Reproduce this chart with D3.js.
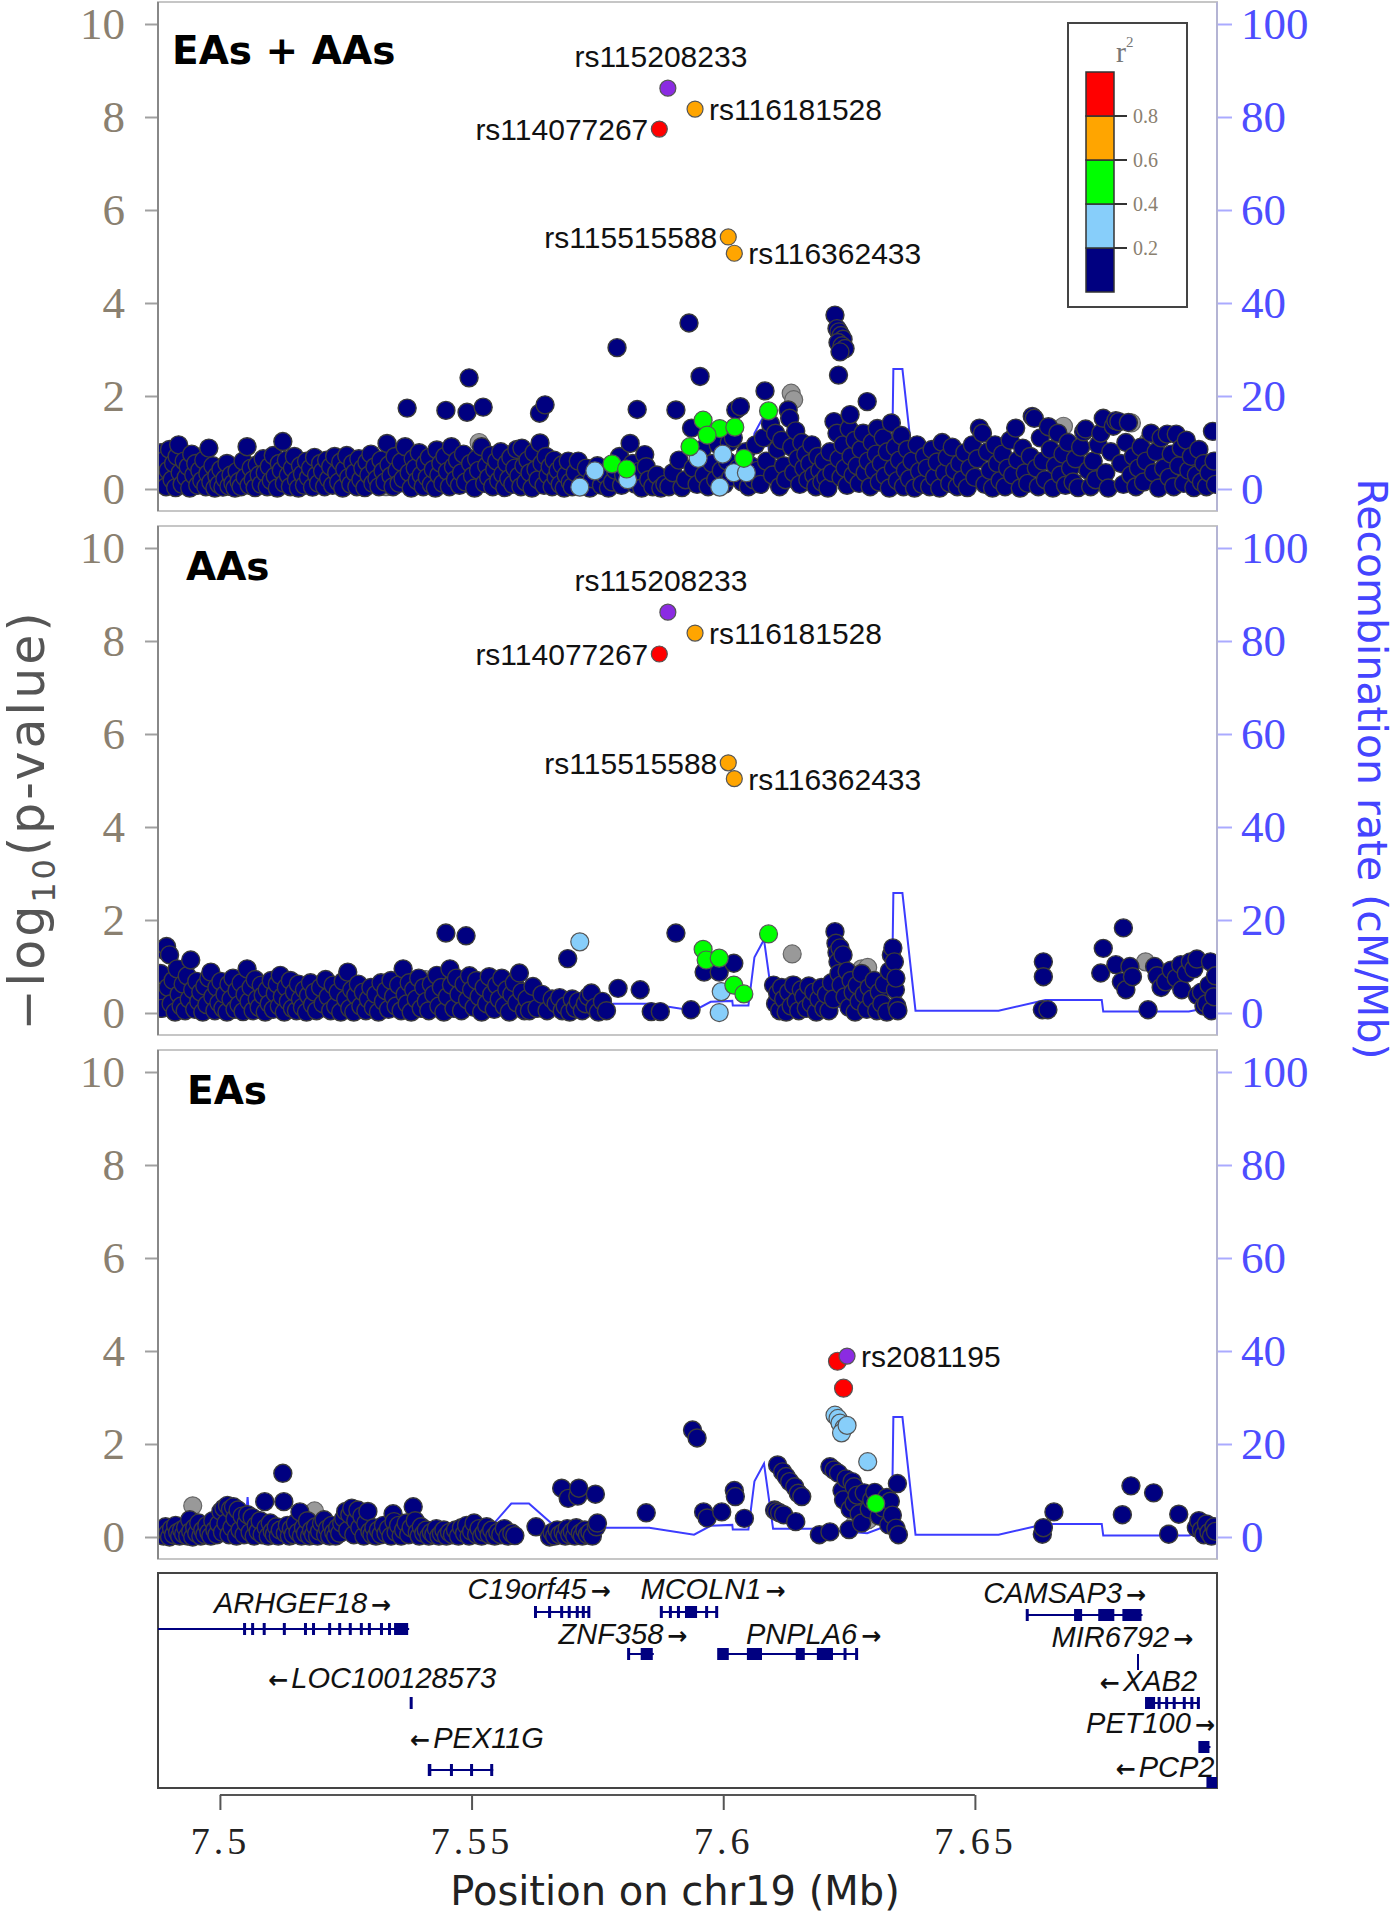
<!DOCTYPE html>
<html>
<head>
<meta charset="utf-8">
<script src="https://cdn.jsdelivr.net/npm/d3@7"></script>
<style>
body { margin: 0; background: #fff; }
</style>
</head>
<body>
<script>
// recombination rate along the region, [Mb, cM/Mb]
const recomb = [[7.4877,1.0],[7.5050,1.1],[7.5055,8.6],[7.5060,1.1],[7.5200,0.8],[7.5400,0.9],[7.5520,1.5],[7.5545,3.0],[7.5579,7.2],[7.5614,7.2],[7.5658,3.0],[7.5750,2.0],[7.5853,2.0],[7.5942,0.5],[7.5975,2.4],[7.6018,2.6],[7.6019,1.6],[7.6050,1.6],[7.6062,12.0],[7.6081,15.8],[7.6099,1.8],[7.6177,1.8],[7.6286,0.8],[7.6320,2.2],[7.6335,2.2],[7.6338,25.8],[7.6356,25.8],[7.6382,0.5],[7.6547,0.5],[7.6640,2.8],[7.6752,2.8],[7.6755,0.3],[7.6925,0.3],[7.6981,1.5]];

// ---- EAs + AAs ----  [Mb, -log10 p]
const comboNavy = [[7.4880,0.12],[7.4881,0.45],[7.4883,0.78],[7.4887,0.30],[7.4890,0.62],[7.4893,0.05],[7.4897,0.40],[7.4900,0.85],[7.4905,0.20],[7.4908,0.55],[7.4912,0.03],[7.4915,0.70],[7.4918,0.95],[7.4921,0.35],[7.4925,0.10],[7.4929,0.60],[7.4933,0.25],[7.4937,0.48],[7.4940,0.02],[7.4944,0.75],[7.4948,0.30],[7.4952,0.55],[7.4956,0.08],[7.4960,0.40],[7.4964,0.18],[7.4968,0.62],[7.4972,0.05],[7.4976,0.33],[7.4978,0.88],[7.4982,0.15],[7.4986,0.50],[7.4990,0.02],[7.4994,0.28],[7.4998,0.10],[7.5002,0.42],[7.5006,0.04],[7.5010,0.22],[7.5014,0.55],[7.5018,0.06],[7.5022,0.30],[7.5026,0.12],[7.5030,0.02],[7.5034,0.38],[7.5038,0.16],[7.5042,0.05],[7.5046,0.60],[7.5050,0.25],[7.5054,0.91],[7.5058,0.08],[7.5062,0.45],[7.5066,0.20],[7.5070,0.03],[7.5074,0.52],[7.5078,0.30],[7.5082,0.10],[7.5086,0.65],[7.5090,0.35],[7.5094,0.05],[7.5098,0.48],[7.5102,0.18],[7.5106,0.72],[7.5110,0.28],[7.5114,0.02],[7.5118,0.55],[7.5122,0.40],[7.5125,1.02],[7.5128,0.12],[7.5132,0.62],[7.5136,0.30],[7.5140,0.05],[7.5144,0.45],[7.5148,0.70],[7.5152,0.20],[7.5156,0.02],[7.5160,0.50],[7.5164,0.32],[7.5168,0.08],[7.5172,0.60],[7.5176,0.25],[7.5180,0.45],[7.5184,0.04],[7.5188,0.68],[7.5192,0.30],[7.5196,0.12],[7.5200,0.55],[7.5204,0.38],[7.5208,0.05],[7.5212,0.62],[7.5216,0.22],[7.5220,0.48],[7.5224,0.08],[7.5228,0.70],[7.5232,0.35],[7.5236,0.15],[7.5240,0.58],[7.5244,0.02],[7.5248,0.42],[7.5252,0.72],[7.5256,0.25],[7.5260,0.10],[7.5264,0.55],[7.5268,0.35],[7.5272,0.05],[7.5276,0.65],[7.5280,0.20],[7.5284,0.45],[7.5288,0.03],[7.5292,0.58],[7.5296,0.30],[7.5300,0.75],[7.5304,0.12],[7.5308,0.48],[7.5312,0.22],[7.5316,0.05],[7.5320,0.62],[7.5324,0.38],[7.5328,0.15],[7.5332,0.98],[7.5336,0.52],[7.5340,0.28],[7.5344,0.05],[7.5348,0.70],[7.5352,0.40],[7.5356,0.12],[7.5360,0.58],[7.5364,0.22],[7.5368,0.91],[7.5372,1.74],[7.5376,0.35],[7.5380,0.02],[7.5384,0.65],[7.5388,0.45],[7.5392,0.18],[7.5396,0.78],[7.5400,0.30],[7.5404,0.05],[7.5408,0.55],[7.5412,0.25],[7.5416,0.68],[7.5420,0.10],[7.5424,0.42],[7.5428,0.02],[7.5431,0.84],[7.5435,0.30],[7.5439,0.55],[7.5443,0.12],[7.5447,0.70],[7.5449,1.69],[7.5452,0.38],[7.5456,0.05],[7.5460,0.91],[7.5464,0.48],[7.5468,0.20],[7.5472,0.62],[7.5476,0.08],[7.5480,0.35],[7.5484,0.75],[7.5488,0.15],[7.5491,1.65],[7.5495,2.39],[7.5498,0.55],[7.5502,0.28],[7.5506,0.02],[7.5510,0.65],[7.5514,0.40],[7.5520,0.91],[7.5523,1.76],[7.5526,0.12],[7.5530,0.50],[7.5534,0.25],[7.5538,0.72],[7.5542,0.05],[7.5546,0.42],[7.5550,0.60],[7.5554,0.18],[7.5558,0.80],[7.5562,0.32],[7.5566,0.03],[7.5570,0.55],[7.5574,0.22],[7.5578,0.68],[7.5582,0.10],[7.5586,0.45],[7.5590,0.85],[7.5594,0.28],[7.5598,0.05],[7.5600,0.88],[7.5604,0.50],[7.5608,0.15],[7.5612,0.62],[7.5616,0.35],[7.5620,0.02],[7.5624,0.78],[7.5628,0.42],[7.5632,0.20],[7.5635,1.63],[7.5636,0.99],[7.5640,0.55],[7.5644,0.08],[7.5646,1.81],[7.5648,0.70],[7.5652,0.30],[7.5656,0.48],[7.5660,0.05],[7.5664,0.62],[7.5668,0.25],[7.5672,0.40],[7.5676,0.10],[7.5680,0.52],[7.5684,0.02],[7.5688,0.30],[7.5692,0.60],[7.5696,0.15],
[7.5700,0.05],[7.5706,0.35],[7.5712,0.60],[7.5720,0.12],[7.5728,0.45],[7.5735,0.02],[7.5740,0.22],[7.5750,0.50],[7.5758,0.08],[7.5765,0.30],[7.5772,0.02],[7.5780,0.15],[7.5786,0.40],[7.5789,3.04],[7.5794,0.70],[7.5798,0.08],[7.5802,0.30],[7.5815,0.98],[7.5820,0.55],[7.5826,0.10],[7.5829,1.71],[7.5833,0.38],[7.5838,0.02],[7.5844,0.74],[7.5847,0.48],[7.5852,0.20],[7.5860,0.05],[7.5868,0.30],[7.5876,0.02],[7.5884,0.10],[7.5892,0.05],[7.5900,0.35],[7.5906,1.70],[7.5912,0.62],[7.5918,0.03],[7.5925,0.20],[7.5932,3.57],[7.5937,1.31],[7.5940,0.45],[7.5948,0.10],[7.5954,2.42],
[7.5958,0.85],[7.5962,0.30],[7.5970,0.05],[7.5978,0.55],[7.5985,0.20],[7.5990,0.95],[7.5996,0.40],[7.6002,0.10],[7.6008,0.60],[7.6012,1.00],[7.6015,0.25],[7.6020,1.10],[7.6025,1.70],[7.6030,0.45],[7.6034,1.77],[7.6038,0.15],[7.6045,0.80],[7.6050,0.05],[7.6055,0.50],[7.6060,0.20],[7.6064,0.95],[7.6068,0.40],[7.6074,0.10],[7.6080,1.10],[7.6083,2.11],[7.6086,0.60],[7.6094,1.40],[7.6098,0.30],[7.6104,1.20],[7.6108,0.85],[7.6112,0.05],[7.6116,1.05],[7.6120,0.50],[7.6124,0.20],[7.6129,1.70],[7.6132,1.52],[7.6136,0.90],[7.6140,0.35],[7.6144,1.25],[7.6148,0.65],[7.6152,0.10],[7.6156,1.00],[7.6160,0.45],[7.6164,0.75],[7.6168,0.20],[7.6172,0.55],[7.6176,0.95],[7.6180,0.30],[7.6184,0.05],[7.6188,0.70],[7.6192,0.40],[7.6196,0.15],[7.6200,0.60],[7.6204,0.25],[7.6208,0.02],[7.6212,0.80],[7.6216,0.35],[7.6220,1.45],[7.6222,3.74],[7.6226,3.45],[7.6230,3.38],[7.6234,3.30],[7.6238,3.22],[7.6228,3.15],[7.6236,3.08],[7.6242,3.02],[7.6232,2.95],[7.6229,2.45],[7.6226,1.20],[7.6230,0.65],[7.6234,0.25],[7.6238,0.95],[7.6242,0.45],[7.6246,0.08],[7.6250,1.30],[7.6252,1.60],[7.6254,0.70],[7.6258,0.30],[7.6262,1.05],[7.6266,0.50],[7.6270,0.12],[7.6274,0.85],[7.6278,1.20],[7.6282,0.35],[7.6286,1.88],[7.6288,0.60],[7.6292,0.05],[7.6296,1.00],[7.6300,0.40],[7.6304,0.75],[7.6306,1.30],[7.6310,0.15],[7.6314,0.55],[7.6318,1.10],[7.6322,0.28],[7.6326,0.80],[7.6330,0.02],[7.6334,1.42],[7.6338,0.45],[7.6342,0.90],[7.6346,0.18],[7.6350,0.62],[7.6354,1.15],[7.6358,0.05],[7.6362,0.40],
[7.6366,0.85],[7.6370,0.22],[7.6375,0.60],[7.6380,0.02],[7.6385,0.95],[7.6390,0.38],[7.6395,0.10],[7.6400,0.70],[7.6405,0.45],[7.6410,0.05],[7.6415,0.85],[7.6420,0.25],[7.6425,0.58],[7.6430,0.02],[7.6435,1.00],[7.6440,0.35],[7.6445,0.68],[7.6450,0.12],[7.6455,0.90],[7.6460,0.40],[7.6465,0.05],[7.6470,0.55],[7.6475,0.20],[7.6480,0.78],[7.6485,0.03],[7.6490,0.45],[7.6495,0.95],[7.6500,0.25],[7.6505,0.65],[7.6509,1.31],[7.6515,1.20],[7.6520,0.10],[7.6525,0.80],[7.6530,0.40],[7.6535,0.02],[7.6540,0.95],[7.6545,0.55],[7.6550,0.18],[7.6555,0.75],[7.6560,0.05],[7.6565,0.45],[7.6570,1.05],[7.6575,0.30],[7.6581,1.31],[7.6585,0.62],[7.6590,0.02],[7.6595,0.88],[7.6600,0.35],[7.6605,0.12],[7.6610,0.70],[7.6614,1.56],[7.6618,1.52],[7.6622,0.45],[7.6626,0.05],[7.6630,1.10],[7.6635,0.60],[7.6640,0.20],[7.6646,1.34],[7.6650,0.85],[7.6655,0.02],[7.6660,0.50],[7.6665,1.20],[7.6670,0.30],[7.6675,0.75],[7.6680,0.08],[7.6685,1.00],[7.6690,0.45],[7.6695,0.15],[7.6700,0.65],[7.6705,0.03],[7.6710,0.90],[7.6716,1.23],[7.6720,1.29],[7.6725,0.40],[7.6730,0.05],[7.6735,0.60],[7.6740,0.20],[7.6745,0.95],[7.6750,1.20],[7.6755,1.52],[7.6760,0.35],[7.6765,0.02],[7.6770,0.80],[7.6775,1.35],[7.6780,1.47],[7.6786,1.45],[7.6790,0.55],[7.6795,0.10],[7.6800,1.00],[7.6805,1.43],[7.6810,0.30],[7.6815,0.70],[7.6820,0.05],[7.6825,0.45],[7.6830,0.90],[7.6835,0.15],[7.6840,0.60],[7.6850,1.20],[7.6855,0.35],[7.6860,0.80],[7.6865,0.02],[7.6870,1.10],[7.6875,0.45],[7.6882,1.18],[7.6886,0.25],[7.6890,0.75],[7.6895,0.05],[7.6900,1.18],[7.6905,0.50],[7.6910,0.88],[7.6915,0.12],[7.6920,1.05],[7.6925,0.40],[7.6930,0.70],[7.6935,0.03],[7.6940,0.30],[7.6945,0.85],[7.6950,0.15],[7.6955,0.55],[7.6960,0.05],[7.6965,0.35],[7.6972,1.24],[7.6975,0.60],[7.6978,0.10]];
const comboGrey = [[7.5062,0.15],[7.5330,0.05],[7.5515,1.00],[7.5911,0.13],[7.6135,2.06],[7.6140,1.92],[7.6250,0.55],[7.6600,0.70],[7.6676,1.35],[7.6678,0.30],[7.6811,1.42],[7.6844,1.02],[7.6905,0.20]];
// [Mb, -log10 p, r2]
const comboLd = [[7.5745,0.39,0.3],[7.5715,0.04,0.3],[7.5810,0.20,0.3],[7.5950,0.66,0.3],[7.5999,0.75,0.3],[7.6021,0.35,0.3],[7.6046,0.35,0.3],[7.5993,0.04,0.3],[7.5779,0.54,0.5],[7.5808,0.43,0.5],[7.5934,0.91,0.5],[7.5960,1.48,0.5],[7.5993,1.30,0.5],[7.5968,1.16,0.5],[7.6023,1.33,0.5],[7.6041,0.66,0.5],[7.6090,1.68,0.5],[7.5944,8.17,0.7],[7.6010,5.42,0.7],[7.6022,5.07,0.7],[7.5873,7.74,0.9]];
const comboLead = [7.5890,8.62];
const comboTags = [["rs115208233",7.5890,8.62],["rs116181528",7.5944,8.17],["rs114077267",7.5873,7.74],["rs115515588",7.6010,5.42],["rs116362433",7.6022,5.07]];

// ---- AAs ----
const aaNavy = [[7.4880,0.40],[7.4882,0.85],[7.4885,0.10],[7.4889,1.35],[7.4894,1.43],[7.4897,0.55],[7.4900,1.25],[7.4903,0.20],[7.4907,0.70],[7.4911,0.02],[7.4915,0.95],[7.4919,0.40],[7.4923,0.15],[7.4927,0.62],[7.4931,0.05],[7.4935,0.80],[7.4939,0.30],[7.4942,1.14],[7.4946,0.50],[7.4950,0.08],[7.4954,0.68],[7.4958,0.25],[7.4962,0.45],[7.4966,0.02],[7.4970,0.58],[7.4974,0.18],[7.4978,0.75],[7.4982,0.88],[7.4986,0.35],[7.4990,0.05],[7.4994,0.55],[7.4998,0.22],[7.5002,0.68],[7.5006,0.10],[7.5010,0.40],[7.5014,0.02],[7.5018,0.62],[7.5022,0.30],[7.5026,0.75],[7.5030,0.08],[7.5034,0.48],[7.5038,0.18],[7.5042,0.65],[7.5046,0.03],[7.5050,0.40],[7.5054,0.95],[7.5058,0.25],[7.5062,0.55],[7.5066,0.05],[7.5070,0.72],[7.5074,0.30],[7.5078,0.12],[7.5082,0.60],[7.5086,0.38],[7.5090,0.02],[7.5094,0.50],[7.5098,0.20],[7.5102,0.70],[7.5106,0.08],[7.5110,0.42],[7.5114,0.62],[7.5118,0.15],[7.5120,0.81],[7.5124,0.35],[7.5128,0.02],[7.5132,0.55],[7.5136,0.25],[7.5140,0.70],[7.5144,0.10],[7.5148,0.45],[7.5152,0.05],[7.5156,0.62],[7.5160,0.30],[7.5164,0.12],[7.5168,0.50],[7.5172,0.02],[7.5176,0.38],[7.5180,0.65],[7.5184,0.18],[7.5188,0.45],[7.5192,0.05],[7.5200,0.55],[7.5205,0.20],[7.5210,0.72],[7.5215,0.35],[7.5220,0.05],[7.5225,0.60],[7.5230,0.15],[7.5235,0.45],[7.5240,0.02],[7.5245,0.68],[7.5250,0.30],[7.5254,0.88],[7.5258,0.10],[7.5262,0.50],[7.5266,0.02],[7.5270,0.38],[7.5275,0.62],[7.5280,0.15],[7.5285,0.45],[7.5290,0.05],[7.5295,0.30],[7.5300,0.55],[7.5305,0.12],[7.5310,0.40],[7.5315,0.02],[7.5320,0.65],[7.5325,0.25],[7.5330,0.48],[7.5335,0.08],[7.5340,0.70],[7.5345,0.35],[7.5350,0.15],[7.5355,0.60],[7.5360,0.05],[7.5364,0.95],[7.5368,0.40],[7.5372,0.20],[7.5376,0.65],[7.5380,0.02],[7.5385,0.50],[7.5390,0.30],[7.5395,0.75],[7.5400,0.10],[7.5405,0.55],[7.5410,0.25],[7.5415,0.05],[7.5420,0.62],[7.5425,0.40],[7.5431,0.81],[7.5435,0.15],[7.5440,0.55],[7.5445,0.02],[7.5449,1.72],[7.5452,0.35],[7.5457,0.95],[7.5460,0.60],[7.5465,0.10],[7.5470,0.75],[7.5475,0.40],[7.5480,0.05],[7.5485,0.62],[7.5489,1.66],[7.5492,0.28],[7.5496,0.80],[7.5500,0.50],[7.5505,0.12],[7.5510,0.70],[7.5515,0.35],[7.5520,0.02],[7.5525,0.55],[7.5530,0.20],[7.5535,0.78],[7.5540,0.40],[7.5545,0.08],[7.5550,0.60],[7.5555,0.30],[7.5560,0.75],[7.5565,0.15],[7.5570,0.50],[7.5575,0.02],[7.5580,0.40],[7.5585,0.65],[7.5590,0.22],[7.5595,0.86],[7.5600,0.45],[7.5605,0.05],[7.5610,0.30],[7.5615,0.05],[7.5622,0.57],[7.5630,0.10],[7.5640,0.40],[7.5650,0.05],[7.5660,0.30],[7.5668,0.20],[7.5675,0.33],[7.5680,0.05],[7.5686,0.15],[7.5691,1.17],[7.5695,0.02],[7.5700,0.30],[7.5706,0.10],[7.5712,0.25],[7.5720,0.05],[7.5726,0.20],[7.5732,0.35],[7.5738,0.43],[7.5745,0.12],[7.5752,0.02],[7.5760,0.25],[7.5768,0.05],[7.5791,0.53],[7.5835,0.50],[7.5857,0.03],[7.5875,0.03],[7.5906,1.72],[7.5936,0.07],[7.5962,0.88],[7.5992,0.88],[7.6021,1.07],
[7.6100,0.60],[7.6104,0.20],[7.6108,0.43],[7.6112,0.05],[7.6116,0.55],[7.6120,0.30],[7.6125,0.02],[7.6130,0.45],[7.6135,0.15],[7.6140,0.60],[7.6145,0.25],[7.6150,0.05],[7.6155,0.50],[7.6160,0.35],[7.6165,0.10],[7.6170,0.58],[7.6175,0.20],[7.6180,0.45],[7.6185,0.02],[7.6190,0.30],[7.6195,0.55],[7.6200,0.10],[7.6205,0.40],[7.6210,0.05],[7.6215,0.65],[7.6219,0.30],[7.6222,1.75],[7.6224,1.50],[7.6226,1.30],[7.6228,1.10],[7.6230,0.85],[7.6232,1.40],[7.6234,0.60],[7.6238,1.25],[7.6242,0.35],[7.6246,0.90],[7.6250,0.12],[7.6254,0.70],[7.6258,0.45],[7.6262,0.02],[7.6266,0.60],[7.6270,0.25],[7.6275,0.85],[7.6280,0.40],[7.6285,0.08],[7.6290,0.55],[7.6295,0.30],[7.6300,0.70],[7.6305,0.05],[7.6310,0.45],[7.6315,0.20],[7.6320,0.62],[7.6325,0.02],[7.6330,0.90],[7.6334,1.25],[7.6337,1.40],[7.6340,1.10],[7.6342,0.50],[7.6343,0.75],[7.6345,0.15],[7.6347,0.05],
[7.6634,0.07],[7.6636,1.10],[7.6636,0.78],[7.6645,0.07],[7.6750,0.86],[7.6755,1.39],[7.6780,1.04],[7.6791,0.67],[7.6795,1.83],[7.6800,0.50],[7.6808,1.00],[7.6813,0.78],[7.6844,0.07],[7.6857,1.00],[7.6862,0.80],[7.6870,0.55],[7.6879,0.67],[7.6890,0.92],[7.6900,0.75],[7.6909,1.04],[7.6911,0.50],[7.6920,0.85],[7.6928,1.10],[7.6935,0.95],[7.6941,1.16],[7.6942,0.38],[7.6950,0.45],[7.6955,0.15],[7.6960,0.20],[7.6965,0.60],[7.6968,1.10],[7.6970,0.05],[7.6975,0.35],[7.6978,0.80]];
const aaGrey = [[7.5194,0.17],[7.5409,0.72],[7.6137,1.27],[7.6137,0.60],[7.6275,0.95],[7.6287,0.98],[7.6338,0.25],[7.6839,1.10]];
const aaLd = [[7.5715,1.53,0.3],[7.5996,0.46,0.3],[7.5992,0.01,0.3],[7.5960,1.37,0.5],[7.5966,1.14,0.5],[7.5992,1.18,0.5],[7.6021,0.60,0.5],[7.6041,0.41,0.5],[7.6090,1.70,0.5],[7.5944,8.17,0.7],[7.6010,5.38,0.7],[7.6022,5.04,0.7],[7.5873,7.72,0.9]];
const aaLead = [7.5890,8.62];
const aaTags = [["rs115208233",7.5890,8.62],["rs116181528",7.5944,8.17],["rs114077267",7.5873,7.72],["rs115515588",7.6010,5.38],["rs116362433",7.6022,5.04]];

// ---- EAs ----
const eaNavy = [[7.4880,0.05],[7.4884,0.15],[7.4888,0.02],[7.4892,0.22],[7.4896,0.08],[7.4900,0.00],[7.4904,0.18],[7.4908,0.05],[7.4912,0.25],[7.4916,0.10],[7.4920,0.02],[7.4924,0.15],[7.4928,0.06],[7.4932,0.20],[7.4936,0.02],[7.4940,0.37],[7.4942,0.12],[7.4946,0.00],[7.4950,0.20],[7.4954,0.08],[7.4958,0.30],[7.4962,0.02],[7.4966,0.15],[7.4970,0.05],[7.4974,0.25],[7.4978,0.10],[7.4982,0.02],[7.4986,0.35],[7.4990,0.15],[7.4994,0.05],[7.4998,0.28],[7.5002,0.55],[7.5005,0.10],[7.5008,0.62],[7.5012,0.30],[7.5015,0.68],[7.5018,0.05],[7.5021,0.60],[7.5024,0.20],[7.5027,0.65],[7.5030,0.40],[7.5033,0.02],[7.5036,0.58],[7.5040,0.15],[7.5044,0.45],[7.5048,0.05],[7.5052,0.30],[7.5055,0.48],[7.5060,0.10],[7.5064,0.42],[7.5068,0.02],[7.5072,0.25],[7.5076,0.12],[7.5080,0.35],[7.5084,0.05],[7.5089,0.76],[7.5092,0.20],[7.5096,0.02],[7.5100,0.30],[7.5104,0.12],[7.5108,0.05],[7.5112,0.22],[7.5116,0.02],[7.5120,0.15],[7.5125,1.37],[7.5127,0.76],[7.5130,0.08],[7.5134,0.25],[7.5138,0.02],[7.5142,0.18],[7.5146,0.05],[7.5150,0.30],[7.5155,0.10],[7.5159,0.54],[7.5162,0.02],[7.5166,0.20],[7.5170,0.08],[7.5174,0.35],[7.5178,0.02],[7.5182,0.15],[7.5186,0.05],[7.5190,0.22],[7.5194,0.02],[7.5198,0.12],[7.5202,0.30],[7.5207,0.37],[7.5210,0.05],[7.5214,0.18],[7.5218,0.02],[7.5222,0.25],[7.5226,0.10],[7.5230,0.02],[7.5234,0.20],[7.5238,0.08],[7.5242,0.30],[7.5246,0.40],[7.5250,0.55],[7.5254,0.15],[7.5258,0.48],[7.5262,0.62],[7.5266,0.05],[7.5270,0.35],[7.5274,0.58],[7.5278,0.20],[7.5282,0.45],[7.5286,0.02],[7.5290,0.30],[7.5294,0.55],[7.5298,0.12],[7.5302,0.05],[7.5306,0.20],[7.5310,0.02],[7.5315,0.15],[7.5320,0.05],[7.5325,0.25],[7.5330,0.08],[7.5335,0.18],[7.5340,0.02],[7.5344,0.50],[7.5346,0.33],[7.5350,0.10],[7.5355,0.25],[7.5360,0.02],[7.5365,0.15],[7.5370,0.30],[7.5375,0.05],[7.5380,0.20],[7.5384,0.65],[7.5388,0.35],[7.5392,0.10],[7.5396,0.02],[7.5400,0.22],[7.5405,0.08],[7.5410,0.15],[7.5415,0.02],[7.5420,0.10],[7.5425,0.05],[7.5430,0.18],[7.5435,0.02],[7.5440,0.08],[7.5445,0.15],[7.5450,0.02],[7.5456,0.10],[7.5462,0.05],[7.5468,0.15],[7.5474,0.02],[7.5480,0.20],[7.5486,0.08],[7.5490,0.25],[7.5495,0.02],[7.5500,0.12],[7.5505,0.30],[7.5510,0.05],[7.5515,0.18],[7.5520,0.02],[7.5525,0.10],[7.5530,0.22],[7.5535,0.05],[7.5540,0.15],[7.5546,0.02],[7.5552,0.10],[7.5558,0.05],[7.5565,0.18],[7.5572,0.02],[7.5580,0.08],[7.5586,0.03],[7.5628,0.22],[7.5655,0.00],[7.5660,0.10],[7.5665,0.02],[7.5670,0.15],[7.5675,0.05],[7.5679,1.05],[7.5682,0.10],[7.5686,0.02],[7.5690,0.18],[7.5692,0.83],[7.5695,0.05],[7.5700,0.12],[7.5705,0.02],[7.5708,0.20],[7.5711,0.88],[7.5713,1.05],[7.5716,0.08],[7.5720,0.02],[7.5725,0.15],[7.5730,0.05],[7.5735,0.10],[7.5740,0.02],[7.5746,0.92],[7.5748,0.22],[7.5750,0.30],[7.5847,0.52],
[7.5939,2.30],[7.5948,2.13],[7.5961,0.54],[7.5968,0.41],[7.5997,0.54],[7.6022,1.00],[7.6024,0.87],[7.6042,0.40],
[7.6102,0.58],[7.6106,0.55],[7.6108,1.55],[7.6112,0.52],[7.6118,1.40],[7.6120,0.48],[7.6125,1.30],[7.6132,1.19],[7.6142,1.08],[7.6144,0.33],[7.6149,0.94],[7.6156,0.87],
[7.6191,0.05],[7.6212,1.51],[7.6212,0.11],[7.6220,1.44],[7.6229,1.37],[7.6236,1.00],[7.6239,0.80],[7.6244,1.25],[7.6250,0.16],[7.6252,0.60],[7.6256,1.19],[7.6260,1.08],[7.6260,0.73],[7.6266,0.90],[7.6270,0.50],[7.6275,0.30],[7.6280,0.95],[7.6290,0.60],[7.6295,0.80],[7.6301,0.96],[7.6310,0.45],[7.6318,0.62],[7.6325,0.85],[7.6329,0.26],[7.6332,0.77],[7.6336,0.47],[7.6343,0.19],[7.6346,1.15],[7.6348,0.05],
[7.6634,0.06],[7.6636,0.20],[7.6657,0.54],[7.6793,0.48],[7.6810,1.10],[7.6855,0.95],[7.6885,0.06],[7.6905,0.49],[7.6940,0.20],[7.6945,0.35],[7.6950,0.15],[7.6955,0.05],[7.6960,0.28],[7.6965,0.10],[7.6970,0.02],[7.6975,0.22],[7.6978,0.12]];
const eaGrey = [[7.4946,0.67],[7.5188,0.56],[7.6262,0.29],[7.6284,0.50],[7.6288,0.37]];
const eaLd = [[7.6222,2.62,0.3],[7.6228,2.55,0.3],[7.6232,2.45,0.3],[7.6240,2.35,0.3],[7.6235,2.24,0.3],[7.6246,2.40,0.3],[7.6287,1.62,0.3],[7.6303,0.72,0.5],[7.6227,3.78,0.9],[7.6239,3.20,0.9]];
const eaLead = [7.6246,3.89];
const eaTags = [["rs2081195",7.6246,3.89]];

// genes: name, strand, start, end, exons [start, end] (Mb)
const genes = [
  {name: "ARHGEF18", strand: 1, start: 7.4600, end: 7.5376, exons: [[7.5048,7.5050],[7.5064,7.5066],[7.5087,7.5089],[7.5127,7.5129],[7.5169,7.5171],[7.5185,7.5187],[7.5217,7.5219],[7.5237,7.5239],[7.5258,7.5260],[7.5280,7.5282],[7.5296,7.5298],[7.5320,7.5322],[7.5336,7.5338],[7.5348,7.5376]]},
  {name: "C19orf45", strand: 1, start: 7.5626, end: 7.5734, exons: [[7.5626,7.5628],[7.5654,7.5656],[7.5678,7.5680],[7.5693,7.5695],[7.5709,7.5711],[7.5721,7.5723],[7.5732,7.5734]]},
  {name: "MCOLN1", strand: 1, start: 7.5876, end: 7.5988, exons: [[7.5876,7.5878],[7.5894,7.5896],[7.5910,7.5912],[7.5926,7.5950],[7.5966,7.5968],[7.5986,7.5988]]},
  {name: "CAMSAP3", strand: 1, start: 7.6603, end: 7.6833, exons: [[7.6603,7.6605],[7.6699,7.6715],[7.6747,7.6779],[7.6795,7.6833]]},
  {name: "ZNF358", strand: 1, start: 7.5811, end: 7.5862, exons: [[7.5811,7.5813],[7.5838,7.5862]]},
  {name: "PNPLA6", strand: 1, start: 7.5990, end: 7.6266, exons: [[7.5990,7.6013],[7.6049,7.6079],[7.6146,7.6164],[7.6188,7.6220],[7.6241,7.6243],[7.6264,7.6266]]},
  {name: "MIR6792", strand: 1, start: 7.6824, end: 7.6826, exons: []},
  {name: "LOC100128573", strand: -1, start: 7.5379, end: 7.5381, exons: [[7.5379,7.5381]]},
  {name: "XAB2", strand: -1, start: 7.6840, end: 7.6945, exons: [[7.6840,7.6860],[7.6865,7.6870],[7.6880,7.6885],[7.6895,7.6900],[7.6915,7.6920],[7.6930,7.6935],[7.6943,7.6945]]},
  {name: "PET100", strand: 1, start: 7.6946, end: 7.6968, exons: [[7.6946,7.6968]]},
  {name: "PCP2", strand: -1, start: 7.6962, end: 7.7000, exons: [[7.6962,7.7000]]},
  {name: "PEX11G", strand: -1, start: 7.5415, end: 7.5543, exons: [[7.5415,7.5422],[7.5459,7.5461],[7.5499,7.5501],[7.5539,7.5543]]}
];

const yTicks = [0, 2, 4, 6, 8, 10];
const recTicks = [0, 20, 40, 60, 80, 100];
const xTicks = [7.5, 7.55, 7.6, 7.65];
const ldBreaks = [0.2, 0.4, 0.6, 0.8];
const ldColors = ["#000080", "#87cefa", "#00ff00", "#ffa500", "#ff0000"];

// ---- layout ----
const W = 1398, H = 1920;
const plotL = 158, plotR = 1217;
const panelTop = [2, 526, 1050];
const panelH = 509;
const dotR = 9;
const titlePos = [[172, 64], [186, 580], [187, 1104]];
const tagSide = {rs115208233: "above", rs116181528: "right", rs114077267: "left", rs115515588: "left", rs116362433: "right", rs2081195: "right"};
// gene row: [line y, label baseline, label shift px]
const geneRow = {ARHGEF18: [1629, 1613, 19], C19orf45: [1612, 1599, -23], MCOLN1: [1612, 1599, 24], CAMSAP3: [1615, 1603, -20], ZNF358: [1654, 1644, -18], PNPLA6: [1654, 1644, 26], MIR6792: [1662, 1647, -16], LOC100128573: [1703, 1688, -29], XAB2: [1703, 1691, -24], PET100: [1747, 1733, 0], PCP2: [1783, 1777, 0], PEX11G: [1770, 1748, 16]};

const svg = d3.select("body").append("svg").attr("width", W).attr("height", H)
  .style("font-family", "'Liberation Sans', Arial, sans-serif");

const x = d3.scaleLinear().domain([7.4877, 7.6981]).range([plotL, plotR]);
const ldColor = d3.scaleThreshold().domain(ldBreaks).range(ldColors);

const panels = [
  {title: "EAs + AAs", navy: comboNavy, grey: comboGrey, ld: comboLd, lead: comboLead, tags: comboTags},
  {title: "AAs", navy: aaNavy, grey: aaGrey, ld: aaLd, lead: aaLead, tags: aaTags},
  {title: "EAs", navy: eaNavy, grey: eaGrey, ld: eaLd, lead: eaLead, tags: eaTags}
];

panels.forEach((pn, i) => {
  const top = panelTop[i];
  const y = d3.scaleLinear().domain([0, 10]).range([top + 487, top + 22]);
  const yr = d3.scaleLinear().domain([0, 100]).range([top + 487, top + 22]);
  const g = svg.append("g");

  svg.append("clipPath").attr("id", "clip" + i)
    .append("rect").attr("x", plotL).attr("y", top).attr("width", plotR - plotL).attr("height", panelH);

  // frame
  g.append("rect").attr("x", plotL).attr("y", top).attr("width", plotR - plotL).attr("height", panelH)
    .attr("fill", "#fff").attr("stroke", "#c6c6c6").attr("stroke-width", 2);

  const inner = g.append("g").attr("clip-path", `url(#clip${i})`);

  // recombination rate
  inner.append("path").datum(recomb)
    .attr("fill", "none").attr("stroke", "#3c3cff").attr("stroke-width", 2)
    .attr("d", d3.line().x(d => x(d[0])).y(d => yr(d[1])));

  inner.append("g").selectAll("circle").data(pn.grey).join("circle")
    .attr("cx", d => x(d[0])).attr("cy", d => y(d[1])).attr("r", dotR)
    .attr("fill", "#999").attr("stroke", "#666").attr("stroke-width", 1.2);

  inner.append("g").selectAll("circle").data(pn.navy).join("circle")
    .attr("cx", d => x(d[0])).attr("cy", d => y(d[1])).attr("r", dotR)
    .attr("fill", "#000080").attr("stroke", "#3a3a3a").attr("stroke-width", 1.4);

  const ldSorted = pn.ld.slice().sort((a, b) => a[2] - b[2]);
  inner.append("g").selectAll("circle").data(ldSorted).join("circle")
    .attr("cx", d => x(d[0])).attr("cy", d => y(d[1])).attr("r", d => d[1] > 4 ? 8 : dotR)
    .attr("fill", d => ldColor(d[2])).attr("stroke", "#555").attr("stroke-width", 1.2);

  inner.append("circle").attr("cx", x(pn.lead[0])).attr("cy", y(pn.lead[1])).attr("r", 8)
    .attr("fill", "#8b2be2").attr("stroke", "#555").attr("stroke-width", 1.2);

  // snp labels
  pn.tags.forEach(t => {
    const px = x(t[1]), py = y(t[2]), side = tagSide[t[0]];
    const tx = g.append("text").text(t[0]).attr("font-size", 30).attr("fill", "#111");
    if (side === "above") tx.attr("x", px - 7).attr("y", py - 21).attr("text-anchor", "middle");
    else if (side === "right") tx.attr("x", px + 14).attr("y", py + 11).attr("text-anchor", "start");
    else tx.attr("x", px - 11).attr("y", py + 11).attr("text-anchor", "end");
  });

  // left axis
  const la = g.append("g").attr("transform", `translate(${plotL},0)`)
    .call(d3.axisLeft(y).tickValues(yTicks).tickSize(13).tickPadding(20).tickFormat(d3.format("d")));
  la.select(".domain").remove();
  la.selectAll("line").attr("stroke", "#a0a0a0").attr("stroke-width", 2);
  la.selectAll("text").attr("font-family", "'Liberation Serif', serif").attr("font-size", 45).attr("fill", "#8a8070");
  g.append("line").attr("x1", plotL).attr("x2", plotL).attr("y1", top).attr("y2", top + panelH)
    .attr("stroke", "#888").attr("stroke-width", 2);

  // right axis
  const ra = g.append("g").attr("transform", `translate(${plotR},0)`)
    .call(d3.axisRight(yr).tickValues(recTicks).tickSize(15).tickPadding(9).tickFormat(d3.format("d")));
  ra.select(".domain").remove();
  ra.selectAll("line").attr("stroke", "#aaaaff").attr("stroke-width", 2);
  ra.selectAll("text").attr("font-family", "'Liberation Serif', serif").attr("font-size", 45).attr("fill", "#4d4dff");
  g.append("line").attr("x1", plotR).attr("x2", plotR).attr("y1", top).attr("y2", top + panelH)
    .attr("stroke", "#b4b4d4").attr("stroke-width", 2);

  g.append("text").text(pn.title).attr("x", titlePos[i][0]).attr("y", titlePos[i][1])
    .attr("font-family", "'DejaVu Sans', sans-serif").attr("font-weight", "bold").attr("font-size", 39).attr("fill", "#000");

  if (i === 0) {
    // r2 legend
    const lg = g.append("g");
    lg.append("rect").attr("x", 1068).attr("y", 23).attr("width", 119).attr("height", 284)
      .attr("fill", "#fff").attr("stroke", "#444").attr("stroke-width", 2);
    const ly = d3.scaleLinear().domain([0, 1]).range([292, 72]);
    const bins = [0].concat(ldBreaks).map((b, k, arr) => [b, k < arr.length - 1 ? arr[k + 1] : 1]);
    lg.selectAll("rect.bin").data(bins).join("rect").attr("class", "bin")
      .attr("x", 1086).attr("width", 28)
      .attr("y", d => ly(d[1])).attr("height", d => ly(d[0]) - ly(d[1]))
      .attr("fill", d => ldColor((d[0] + d[1]) / 2)).attr("stroke", "#333").attr("stroke-width", 1.5);
    lg.selectAll("line.tk").data(ldBreaks).join("line").attr("class", "tk")
      .attr("x1", 1114).attr("x2", 1127).attr("y1", d => ly(d)).attr("y2", d => ly(d))
      .attr("stroke", "#333").attr("stroke-width", 2);
    lg.selectAll("text.tl").data(ldBreaks).join("text").attr("class", "tl")
      .attr("x", 1133).attr("y", d => ly(d)).attr("dy", "0.35em").text(d => d)
      .attr("font-family", "'Liberation Serif', serif").attr("font-size", 20).attr("fill", "#8a8070");
    const r2 = lg.append("text").attr("x", 1116).attr("y", 62)
      .attr("font-family", "'Liberation Serif', serif").attr("font-size", 30).attr("fill", "#777");
    r2.append("tspan").text("r");
    r2.append("tspan").text("2").attr("font-size", 15).attr("dy", -15);
  }
});

// gene panel
const gp = svg.append("g");
gp.append("rect").attr("x", plotL).attr("y", 1573).attr("width", plotR - plotL).attr("height", 215)
  .attr("fill", "#fff").attr("stroke", "#444").attr("stroke-width", 2);
svg.append("clipPath").attr("id", "clipGenes")
  .append("rect").attr("x", plotL).attr("y", 1573).attr("width", plotR - plotL).attr("height", 215);
const gl = gp.append("g").attr("clip-path", "url(#clipGenes)");
genes.forEach(gn => {
  const row = geneRow[gn.name];
  const gy = row[0];
  gl.append("line").attr("x1", x(gn.start)).attr("x2", x(gn.end)).attr("y1", gy).attr("y2", gy)
    .attr("stroke", "#000080").attr("stroke-width", 2);
  gl.selectAll(null).data(gn.exons).join("rect")
    .attr("x", d => x(d[0]) - 1).attr("width", d => Math.max(3, x(d[1]) - x(d[0])))
    .attr("y", gy - 6).attr("height", 12).attr("fill", "#000080");
  if (gn.exons.length === 0) {
    gl.append("line").attr("x1", x(gn.start)).attr("x2", x(gn.start)).attr("y1", gy - 8).attr("y2", gy + 8)
      .attr("stroke", "#000080").attr("stroke-width", 2);
  }
  const lbl = gp.append("text").attr("y", row[1]).attr("text-anchor", "middle")
    .attr("font-style", "italic").attr("font-size", 29).attr("fill", "#111");
  if (gn.strand < 0) lbl.append("tspan").text("\u2190").attr("font-family", "'DejaVu Sans', sans-serif").attr("font-style", "normal").attr("font-size", 24).attr("font-weight", "bold");
  lbl.append("tspan").text(gn.name).attr("dx", gn.strand < 0 ? 3 : 0);
  if (gn.strand > 0) lbl.append("tspan").text("\u2192").attr("dx", 4).attr("font-family", "'DejaVu Sans', sans-serif").attr("font-style", "normal").attr("font-size", 24).attr("font-weight", "bold");
  const half = lbl.node().getComputedTextLength() / 2 + 2;
  const mid = (x(Math.max(gn.start, 7.4877)) + x(Math.min(gn.end, 7.6981))) / 2 + row[2];
  lbl.attr("x", Math.max(plotL + 4 + half, Math.min(plotR - 2 - half, mid)));
});

// x axis
const xa = svg.append("g").attr("transform", "translate(0,1795)")
  .call(d3.axisBottom(x).tickValues(xTicks).tickSize(15).tickSizeOuter(0).tickPadding(17).tickFormat(d3.format("")));
xa.select(".domain").remove();
xa.selectAll("line").attr("stroke", "#555").attr("stroke-width", 2);
xa.selectAll("text").attr("font-family", "'Liberation Serif', serif").attr("font-size", 38).attr("letter-spacing", 4).attr("fill", "#222");
svg.append("line").attr("x1", x(7.5)).attr("x2", x(7.65)).attr("y1", 1795).attr("y2", 1795)
  .attr("stroke", "#555").attr("stroke-width", 2);

svg.append("text").text("Position on chr19 (Mb)").attr("x", 675).attr("y", 1905).attr("text-anchor", "middle")
  .attr("font-family", "'DejaVu Sans', sans-serif").attr("font-size", 40).attr("fill", "#222");

const yt = svg.append("text").attr("transform", "translate(44,820) rotate(-90)").attr("text-anchor", "middle")
  .attr("font-family", "'DejaVu Sans', sans-serif").attr("font-size", 49).attr("letter-spacing", 3).attr("fill", "#555");
yt.append("tspan").text("\u2212log");
yt.append("tspan").text("10").attr("font-size", 32).attr("dy", 11);
yt.append("tspan").text("(p-value)").attr("dy", -11);

svg.append("text").text("Recombination rate (cM/Mb)").attr("transform", "translate(1358,769) rotate(90)")
  .attr("text-anchor", "middle").attr("font-family", "'DejaVu Sans', sans-serif").attr("font-size", 41).attr("fill", "#4444ff");
</script>
</body>
</html>
